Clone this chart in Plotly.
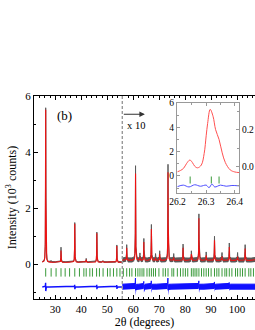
import numpy as np
import plotly.graph_objects as go

# ---------------- data ----------------
# main pattern, segment 1 (2theta < 55.8, shown as measured)
seg1_range = [25.0, 55.8]
seg1_bg = 0.06
seg1_peak_pos = [26.3, 28.4, 32.2, 37.5, 41.9, 46.0, 48.4, 53.7]
seg1_peak_calc = [5.45, 0.03, 0.42, 1.38, 0.10, 1.04, 0.03, 0.58]
seg1_peak_obs = [5.50, 0.04, 0.52, 1.40, 0.12, 1.06, 0.04, 0.60]

# segment 2 (2theta > 55.8, shown x 10)
seg2_range = [55.8, 110.0]
seg2_bg = 0.13
seg2_peak_pos = [57.5, 60.9, 62.6, 64.1, 67.0, 68.6, 70.2, 73.4, 75.6, 79.2,
                 82.4, 85.3, 88.1, 91.3, 94.2, 97.0, 100.2, 103.1, 107.5]
seg2_peak_calc = [0.45, 3.10, 0.12, 0.65, 1.12, 0.10, 0.22, 3.15, 0.10, 0.45,
                  0.22, 1.50, 0.18, 0.72, 0.14, 0.48, 0.14, 0.42, 0.15]
seg2_peak_obs = [0.48, 3.30, 0.18, 0.70, 1.20, 0.16, 0.26, 3.35, 0.16, 0.50,
                 0.26, 1.58, 0.22, 0.78, 0.20, 0.54, 0.20, 0.48, 0.20]

# difference curve
diff_level = -0.82
diff_spike_pos = [26.3, 37.5, 46.0, 53.7, 60.9, 64.1, 67.0, 73.4, 85.3, 91.3, 97.0]
diff_spike_amp = [0.15, 0.08, 0.08, 0.07, 0.22, 0.10, 0.12, 0.22, 0.12, 0.08, 0.06]

# Bragg reflection markers
bragg_level = -0.30
bragg_pos = [26.3, 28.4, 30.3, 32.2, 33.8, 35.5, 37.5, 39.3, 41.0, 41.9, 43.3,
             44.3, 45.9, 47.0, 48.4, 50.1, 51.1, 52.4, 53.7, 54.9,
             56.2, 57.5, 58.6, 59.5, 60.9, 61.8, 62.6, 63.4, 64.1, 65.3, 66.2,
             67.0, 67.8, 68.6, 69.9, 71.5, 72.4, 73.4, 74.9, 75.6, 77.0, 78.2,
             79.2, 80.1, 81.0, 82.4, 83.1, 83.8, 84.5, 85.3, 86.3, 87.2, 88.1,
             89.0, 90.0, 91.3, 92.2, 93.0, 94.2, 95.3, 96.0, 97.0, 98.0, 99.4,
             100.2, 101.2, 102.1, 103.1, 104.5, 105.3, 106.3, 107.5, 108.4, 109.3]

# inset (zoom on the strongest reflection)
inset_x = [26.200, 26.210, 26.221, 26.232, 26.243, 26.252, 26.260, 26.270,
           26.283, 26.293, 26.300, 26.305, 26.314, 26.324, 26.333, 26.345,
           26.356, 26.367, 26.384, 26.400, 26.415]
inset_y = [0.35, 0.45, 0.63, 1.04, 1.31, 1.10, 0.80, 0.67, 0.90, 1.85, 3.3,
           4.3, 5.47, 4.9, 3.8, 3.0, 1.9, 1.1, 0.5, 0.33, 0.28]
inset_bragg_pos = [26.244, 26.318, 26.345]
inset_bragg_level = -0.33
inset_diff_x = [26.200, 26.220, 26.240, 26.260, 26.280, 26.300, 26.310, 26.320,
                26.330, 26.350, 26.370, 26.390, 26.415]
inset_diff_y = [-0.108, -0.100, -0.110, -0.098, -0.106, -0.100, -0.114, -0.094,
                -0.110, -0.100, -0.106, -0.102, -0.104]
inset_right_ticks = [0.0, 0.2]
inset_right_labels = ["0.0", "0.2"]

FWHM = 0.12
SERIF = "Liberation Serif"


def profile(x, pos, hts, bg):
    y = np.full_like(x, bg)
    for p, h in zip(pos, hts):
        u = (x - p) / (FWHM / 2)
        y += h / (1 + u * u)
    return y


def diff_curve(x, level):
    y = np.full_like(x, level)
    for p, a in zip(diff_spike_pos, diff_spike_amp):
        u = (x - p) / (FWHM / 2)
        y += a * (-u / (1 + u * u) ** 2) / 0.3248
    return y


fig = go.Figure()


def band(x, y, half, color, width):
    fig.add_trace(go.Scatter(x=x, y=y - half, mode="lines", line=dict(color=color, width=0),
                             xaxis="x", yaxis="y", hoverinfo="skip"))
    fig.add_trace(go.Scatter(x=x, y=y + half, mode="lines", line=dict(color=color, width=width),
                             fill="tonexty", fillcolor=color,
                             xaxis="x", yaxis="y", hoverinfo="skip"))


segs = [(seg1_range, seg1_bg, seg1_peak_pos, seg1_peak_calc, seg1_peak_obs, 0.02, 0.0),
        (seg2_range, seg2_bg, seg2_peak_pos, seg2_peak_calc, seg2_peak_obs, 0.08, 0.1)]
for rng, bg, pos, calc, obs, obs_half, diff_half in segs:
    x = np.arange(rng[0], rng[1], 0.01)
    band(x, profile(x, pos, obs, bg), obs_half, "#5a5a5a", 1)
    fig.add_trace(go.Scatter(x=x, y=profile(x, pos, calc, bg), mode="lines",
                             line=dict(color="#ee1111", width=1.1),
                             xaxis="x", yaxis="y", hoverinfo="skip"))
    d = diff_curve(x, diff_level)
    if diff_half > 0:
        band(x, d, diff_half, "#1010ff", 1)
    else:
        fig.add_trace(go.Scatter(x=x, y=d, mode="lines", line=dict(color="#1010ff", width=1.4),
                                 xaxis="x", yaxis="y", hoverinfo="skip"))

fig.add_trace(go.Scatter(x=bragg_pos, y=[bragg_level] * len(bragg_pos), mode="markers",
                         marker=dict(symbol="line-ns", size=6,
                                     line=dict(color="#3a9a3a", width=1)),
                         xaxis="x", yaxis="y"))

# inset traces
fig.add_trace(go.Scatter(x=inset_x, y=inset_y, mode="lines", line_shape="spline",
                         line=dict(color="#ff5050", width=1), xaxis="x2", yaxis="y3"))
fig.add_trace(go.Scatter(x=inset_bragg_pos, y=[inset_bragg_level] * 3, mode="markers",
                         marker=dict(symbol="line-ns", size=5,
                                     line=dict(color="#3a9a3a", width=1)),
                         xaxis="x2", yaxis="y3"))
fig.add_trace(go.Scatter(x=inset_diff_x, y=inset_diff_y, mode="lines", line_shape="spline",
                         line=dict(color="#5050ff", width=1), xaxis="x2", yaxis="y4"))

tick_font = dict(family=SERIF, size=11, color="black")
inset_font = dict(family=SERIF, size=9.5, color="black")

fig.update_layout(
    width=255, height=330,
    margin=dict(l=34, r=0, t=96, b=31, autoexpand=False),
    paper_bgcolor="white", plot_bgcolor="white",
    showlegend=False,
    font=dict(family=SERIF, color="black"),
    xaxis=dict(domain=[0, 1], range=[21.8, 106.9], anchor="y", automargin=False,
               showline=True, linecolor="black", linewidth=1, mirror="ticks",
               ticks="inside", ticklen=4, tickwidth=1, tickcolor="black",
               dtick=10, tick0=0, showgrid=False, zeroline=False,
               minor=dict(dtick=2, ticks="inside", ticklen=2, tickcolor="black"),
               tickfont=tick_font,
               title=dict(text="2θ (degrees)", font=dict(family=SERIF, size=12), standoff=2)),
    yaxis=dict(domain=[0, 1], range=[-1.25, 6.0], anchor="x", automargin=False,
               showline=True, linecolor="black", linewidth=1, mirror=False,
               ticks="inside", ticklen=4, tickwidth=1, tickcolor="black",
               dtick=2, tick0=0, showgrid=False, zeroline=False,
               minor=dict(dtick=1, ticks="inside", ticklen=2, tickcolor="black"),
               tickfont=tick_font,
               title=dict(text="Intensity (10<sup>3</sup> counts)",
                          font=dict(family=SERIF, size=12), standoff=6)),
    xaxis2=dict(domain=[0.647, 0.928], range=[26.198, 26.415], anchor="y3", automargin=False,
                showline=True, linecolor="#999999", linewidth=1, mirror="ticks",
                ticks="inside", ticklen=3, tickcolor="#999999",
                dtick=0.1, tick0=26.2, tickformat=".1f", showgrid=False, zeroline=False,
                minor=dict(dtick=0.05, ticks="inside", ticklen=2, tickcolor="#999999"),
                tickfont=inset_font),
    yaxis3=dict(domain=[0.522, 0.966], range=[-1.4, 6.0], anchor="x2", automargin=False,
                showline=True, linecolor="#999999", linewidth=1,
                ticks="inside", ticklen=3, tickcolor="#999999",
                dtick=2, tick0=0, showgrid=False, zeroline=False,
                minor=dict(dtick=1, ticks="inside", ticklen=2, tickcolor="#999999"),
                tickfont=inset_font),
    yaxis4=dict(range=[-0.143, 0.347], overlaying="y3", side="right", anchor="x2",
                automargin=False,
                showline=True, linecolor="#999999", linewidth=1,
                ticks="inside", ticklen=3, tickcolor="#999999",
                tickmode="array", tickvals=inset_right_ticks, ticktext=inset_right_labels,
                showgrid=False, zeroline=False,
                minor=dict(dtick=0.1, tick0=0, ticks="inside", ticklen=2, tickcolor="#999999"),
                tickfont=inset_font),
    shapes=[dict(type="line", xref="x", yref="paper", x0=55.8, x1=55.8, y0=0, y1=1,
                 line=dict(color="#999999", width=1.4, dash="3px,2px"))],
    annotations=[
        dict(x=64.5, y=5.35, ax=55.8, ay=5.35, xref="x", yref="y", axref="x", ayref="y",
             text="", showarrow=True, arrowhead=2, arrowsize=1, arrowwidth=1.1,
             arrowcolor="#333333"),
        dict(x=57.0, y=4.95, xref="x", yref="y", text="x 10", showarrow=False,
             xanchor="left", font=dict(family=SERIF, size=10.5)),
        dict(x=33.6, y=5.32, xref="x", yref="y", text="(b)", showarrow=False,
             font=dict(family=SERIF, size=13)),
    ],
)

# remove the default page margin so the 255x330 figure fills the window exactly
page_fix = ("document.documentElement.style.margin='0';"
            "document.documentElement.style.overflow='hidden';"
            "document.body.style.margin='0';"
            "document.body.style.overflow='hidden';")

fig.write_html("out.html", post_script=page_fix,
               config={"displayModeBar": False, "staticPlot": True})
